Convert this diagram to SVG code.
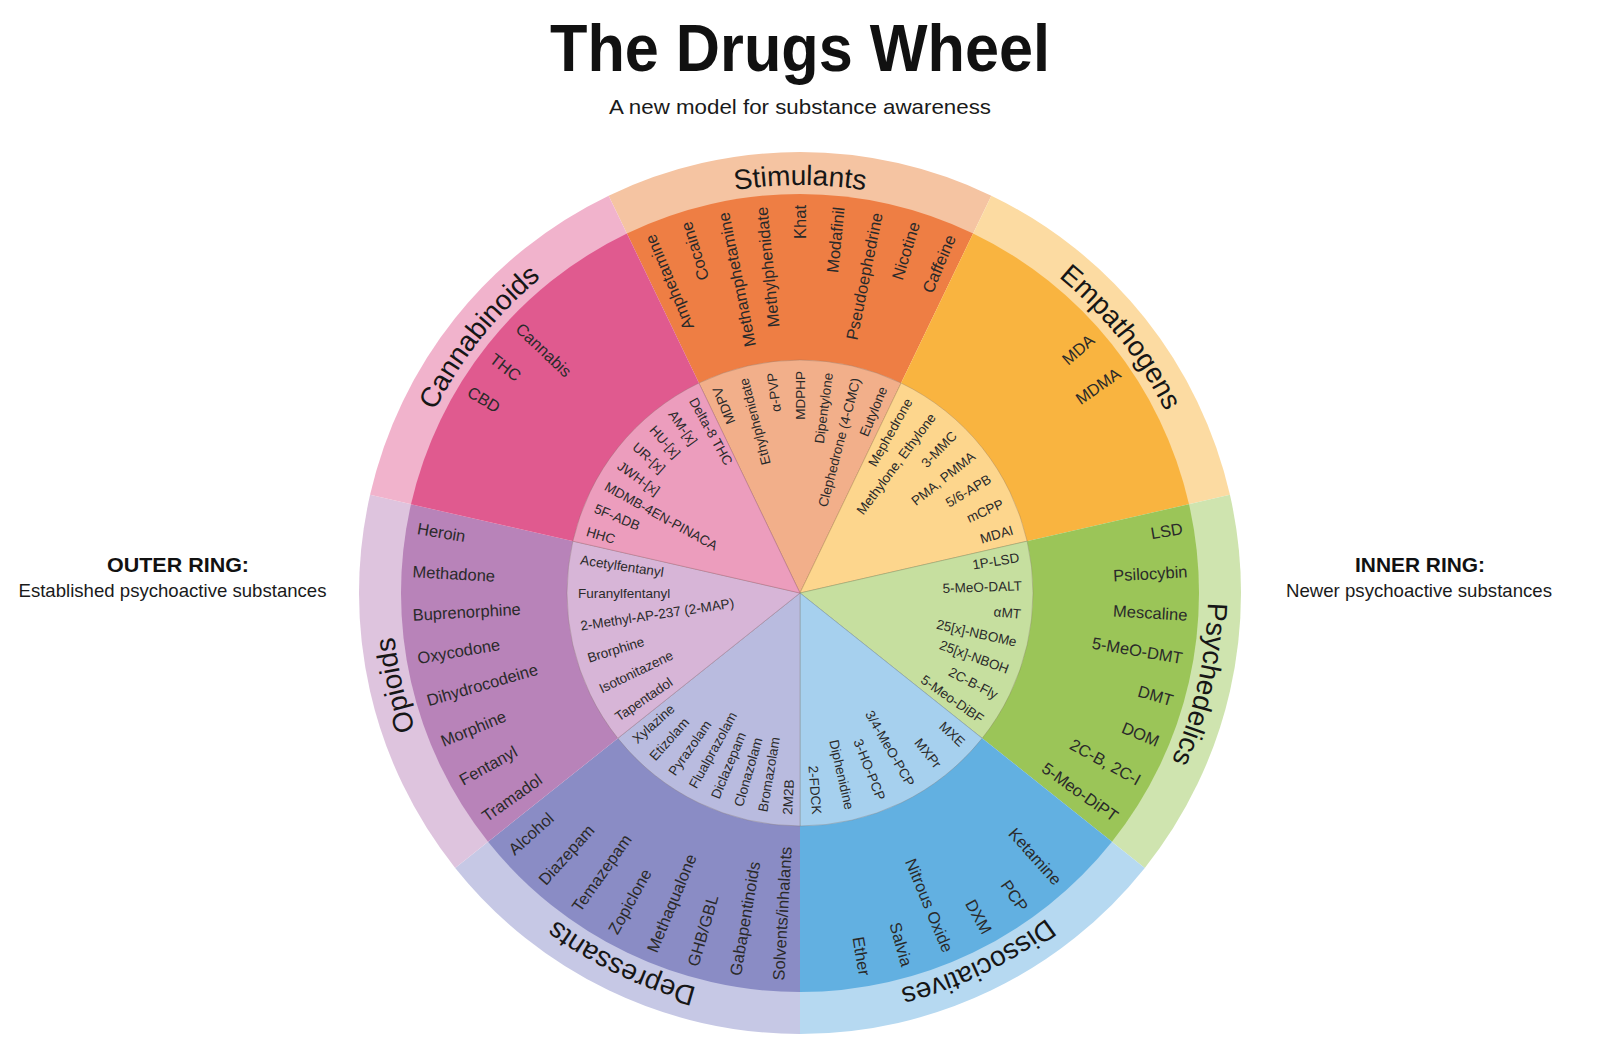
<svg xmlns="http://www.w3.org/2000/svg" width="1600" height="1050" viewBox="0 0 1600 1050">
<defs>
<style>
text{font-family:"Liberation Sans",Arial,sans-serif;fill:#2a2a2a}
.o{font-size:16.5px}
.i{font-size:13.5px}
.r{text-anchor:end;dominant-baseline:central}
.l{text-anchor:start;dominant-baseline:central}
.cat{font-size:28px;fill:#161616;text-anchor:middle}
.ir{stroke:#7a6a60;stroke-opacity:.3;stroke-width:1}
.ttl{font-size:66px;font-weight:bold;fill:#111;text-anchor:middle}
.sub{font-size:21px;fill:#1a1a1a;text-anchor:middle}
.hd{font-size:21px;font-weight:bold;fill:#111;text-anchor:middle}
.hs{font-size:19px;fill:#1a1a1a;text-anchor:middle}
</style>
<path id="lp" d="M800 1001A408 408 0 1 1 800 185A408 408 0 1 1 800 1001" fill="none"/>
</defs>
<rect width="1600" height="1050" fill="#ffffff"/>

<g id="title">
<text class="ttl" x="800" y="71" textLength="500" lengthAdjust="spacingAndGlyphs">The Drugs Wheel</text>
<text class="sub" x="800" y="114" textLength="382" lengthAdjust="spacingAndGlyphs">A new model for substance awareness</text>
</g>
<g id="legend-outer">
<text class="hd" x="178" y="572" textLength="142" lengthAdjust="spacingAndGlyphs">OUTER RING:</text>
<text class="hs" x="172.5" y="597" textLength="308" lengthAdjust="spacingAndGlyphs">Established psychoactive substances</text>
</g>
<g id="legend-inner">
<text class="hd" x="1420" y="572" textLength="130" lengthAdjust="spacingAndGlyphs">INNER RING:</text>
<text class="hs" x="1419" y="597" textLength="266" lengthAdjust="spacingAndGlyphs">Newer psychoactive substances</text>
</g>

<g id="stimulants">
<path fill="#F5C4A2" d="M800 593L608.66 195.67A441 441 0 0 1 991.34 195.67Z"/>
<path fill="#EE7E44" d="M800 593L626.88 233.51A399 399 0 0 1 973.12 233.51Z"/>
<path class="ir" fill="#F2AF8A" d="M800 593L698.91 383.07A233 233 0 0 1 901.09 383.07Z"/>
<text class="cat"><textPath href="#lp" startOffset="50%">Stimulants</textPath></text>
<text class="o r" x="1188" y="593" transform="rotate(-112.857 800 593)">Amphetamine</text>
<text class="o r" x="1188" y="593" transform="rotate(-107.143 800 593)">Cocaine</text>
<text class="o r" x="1188" y="593" transform="rotate(-101.429 800 593)">Methamphetamine</text>
<text class="o r" x="1188" y="593" transform="rotate(-95.714 800 593)">Methylphenidate</text>
<text class="o r" x="1188" y="593" transform="rotate(-90 800 593)">Khat</text>
<text class="o r" x="1188" y="593" transform="rotate(-84.286 800 593)">Modafinil</text>
<text class="o r" x="1188" y="593" transform="rotate(-78.571 800 593)">Pseudoephedrine</text>
<text class="o r" x="1188" y="593" transform="rotate(-72.857 800 593)">Nicotine</text>
<text class="o r" x="1188" y="593" transform="rotate(-67.143 800 593)">Caffeine</text>
<text class="i r" x="1022" y="593" transform="rotate(-112.041 800 593)">MDPV</text>
<text class="i r" x="1022" y="593" transform="rotate(-104.694 800 593)">Ethylphenidate</text>
<text class="i r" x="1022" y="593" transform="rotate(-97.347 800 593)">α-PVP</text>
<text class="i r" x="1022" y="593" transform="rotate(-90 800 593)">MDPHP</text>
<text class="i r" x="1022" y="593" transform="rotate(-82.653 800 593)">Dipentylone</text>
<text class="i r" x="1022" y="593" transform="rotate(-75.306 800 593)">Clephedrone (4-CMC)</text>
<text class="i r" x="1022" y="593" transform="rotate(-67.959 800 593)">Eutylone</text>
</g>

<g id="empathogens">
<path fill="#FCDBA2" d="M800 593L991.34 195.67A441 441 0 0 1 1229.94 494.87Z"/>
<path fill="#F9B440" d="M800 593L973.12 233.51A399 399 0 0 1 1189.00 504.22Z"/>
<path class="ir" fill="#FDD68D" d="M800 593L901.09 383.07A233 233 0 0 1 1027.16 541.15Z"/>
<text class="cat"><textPath href="#lp" startOffset="64.286%">Empathogens</textPath></text>
<text class="o r" x="1188" y="593" transform="rotate(-41.2 800 593)">MDA</text>
<text class="o r" x="1188" y="593" transform="rotate(-34.8 800 593)">MDMA</text>
<text class="i r" x="1022" y="593" transform="rotate(-60.612 800 593)">Mephedrone</text>
<text class="i r" x="1022" y="593" transform="rotate(-53.265 800 593)">Methylone, Ethylone</text>
<text class="i r" x="1022" y="593" transform="rotate(-45.918 800 593)">3-MMC</text>
<text class="i r" x="1022" y="593" transform="rotate(-38.571 800 593)">PMA, PMMA</text>
<text class="i r" x="1022" y="593" transform="rotate(-31.224 800 593)">5/6-APB</text>
<text class="i r" x="1022" y="593" transform="rotate(-23.878 800 593)">mCPP</text>
<text class="i r" x="1022" y="593" transform="rotate(-16.531 800 593)">MDAI</text>
</g>

<g id="psychedelics">
<path fill="#CFE4AF" d="M800 593L1229.94 494.87A441 441 0 0 1 1144.79 867.96Z"/>
<path fill="#9BC558" d="M800 593L1189.00 504.22A399 399 0 0 1 1111.95 841.77Z"/>
<path class="ir" fill="#C6DF9F" d="M800 593L1027.16 541.15A233 233 0 0 1 982.17 738.27Z"/>
<text class="cat"><textPath href="#lp" startOffset="78.571%">Psychedelics</textPath></text>
<text class="o r" x="1188" y="593" transform="rotate(-9.643 800 593)">LSD</text>
<text class="o r" x="1188" y="593" transform="rotate(-3.214 800 593)">Psilocybin</text>
<text class="o r" x="1188" y="593" transform="rotate(3.214 800 593)">Mescaline</text>
<text class="o r" x="1188" y="593" transform="rotate(9.643 800 593)">5-MeO-DMT</text>
<text class="o r" x="1188" y="593" transform="rotate(16.071 800 593)">DMT</text>
<text class="o r" x="1188" y="593" transform="rotate(22.5 800 593)">DOM</text>
<text class="o r" x="1188" y="593" transform="rotate(28.929 800 593)">2C-B, 2C-I</text>
<text class="o r" x="1188" y="593" transform="rotate(35.357 800 593)">5-Meo-DiPT</text>
<text class="i r" x="1022" y="593" transform="rotate(-9.184 800 593)">1P-LSD</text>
<text class="i r" x="1022" y="593" transform="rotate(-1.837 800 593)">5-MeO-DALT</text>
<text class="i r" x="1022" y="593" transform="rotate(5.51 800 593)">αMT</text>
<text class="i r" x="1022" y="593" transform="rotate(12.857 800 593)">25[x]-NBOMe</text>
<text class="i r" x="1022" y="593" transform="rotate(20.204 800 593)">25[x]-NBOH</text>
<text class="i r" x="1022" y="593" transform="rotate(27.551 800 593)">2C-B-Fly</text>
<text class="i r" x="1022" y="593" transform="rotate(34.898 800 593)">5-Meo-DiBF</text>
</g>

<g id="dissociatives">
<path fill="#B6D9F1" d="M800 593L1144.79 867.96A441 441 0 0 1 800 1034Z"/>
<path fill="#62B0E1" d="M800 593L1111.95 841.77A399 399 0 0 1 800 992Z"/>
<path class="ir" fill="#A6D0EE" d="M800 593L982.17 738.27A233 233 0 0 1 800 826Z"/>
<text class="cat"><textPath href="#lp" startOffset="92.857%">Dissociatives</textPath></text>
<text class="o r" x="1188" y="593" transform="rotate(48.214 800 593)">Ketamine</text>
<text class="o r" x="1188" y="593" transform="rotate(54.643 800 593)">PCP</text>
<text class="o r" x="1188" y="593" transform="rotate(61.071 800 593)">DXM</text>
<text class="o r" x="1188" y="593" transform="rotate(67.5 800 593)">Nitrous Oxide</text>
<text class="o r" x="1188" y="593" transform="rotate(73.929 800 593)">Salvia</text>
<text class="o r" x="1188" y="593" transform="rotate(80.357 800 593)">Ether</text>
<text class="i r" x="1022" y="593" transform="rotate(42.857 800 593)">MXE</text>
<text class="i r" x="1022" y="593" transform="rotate(51.429 800 593)">MXPr</text>
<text class="i r" x="1022" y="593" transform="rotate(60 800 593)">3/4-MeO-PCP</text>
<text class="i r" x="1022" y="593" transform="rotate(68.571 800 593)">3-HO-PCP</text>
<text class="i r" x="1022" y="593" transform="rotate(77.143 800 593)">Diphenidine</text>
<text class="i r" x="1022" y="593" transform="rotate(85.714 800 593)">2-FDCK</text>
</g>

<g id="depressants">
<path fill="#C6C8E5" d="M800 593L800 1034A441 441 0 0 1 455.21 867.96Z"/>
<path fill="#8A8CC5" d="M800 593L800 992A399 399 0 0 1 488.05 841.77Z"/>
<path class="ir" fill="#B9BBDF" d="M800 593L800 826A233 233 0 0 1 617.83 738.27Z"/>
<text class="cat"><textPath href="#lp" startOffset="7.143%">Depressants</textPath></text>
<text class="o l" x="412" y="593" transform="rotate(-86.786 800 593)">Solvents/inhalants</text>
<text class="o l" x="412" y="593" transform="rotate(-80.357 800 593)">Gabapentinoids</text>
<text class="o l" x="412" y="593" transform="rotate(-73.929 800 593)">GHB/GBL</text>
<text class="o l" x="412" y="593" transform="rotate(-67.5 800 593)">Methaqualone</text>
<text class="o l" x="412" y="593" transform="rotate(-61.071 800 593)">Zopiclone</text>
<text class="o l" x="412" y="593" transform="rotate(-54.643 800 593)">Temazepam</text>
<text class="o l" x="412" y="593" transform="rotate(-48.214 800 593)">Diazepam</text>
<text class="o l" x="412" y="593" transform="rotate(-41.786 800 593)">Alcohol</text>
<text class="i l" x="578" y="593" transform="rotate(-86.786 800 593)">2M2B</text>
<text class="i l" x="578" y="593" transform="rotate(-80.357 800 593)">Bromazolam</text>
<text class="i l" x="578" y="593" transform="rotate(-73.929 800 593)">Clonazolam</text>
<text class="i l" x="578" y="593" transform="rotate(-67.5 800 593)">Diclazepam</text>
<text class="i l" x="578" y="593" transform="rotate(-61.071 800 593)">Flualprazolam</text>
<text class="i l" x="578" y="593" transform="rotate(-54.643 800 593)">Pyrazolam</text>
<text class="i l" x="578" y="593" transform="rotate(-48.214 800 593)">Etizolam</text>
<text class="i l" x="578" y="593" transform="rotate(-41.786 800 593)">Xylazine</text>
</g>

<g id="opioids">
<path fill="#DEC4DE" d="M800 593L455.21 867.96A441 441 0 0 1 370.06 494.87Z"/>
<path fill="#B883B9" d="M800 593L488.05 841.77A399 399 0 0 1 411.00 504.22Z"/>
<path class="ir" fill="#D7B5D7" d="M800 593L617.83 738.27A233 233 0 0 1 572.84 541.15Z"/>
<text class="cat"><textPath href="#lp" startOffset="21.429%">Opioids</textPath></text>
<text class="o l" x="412" y="593" transform="rotate(-35.357 800 593)">Tramadol</text>
<text class="o l" x="412" y="593" transform="rotate(-28.929 800 593)">Fentanyl</text>
<text class="o l" x="412" y="593" transform="rotate(-22.5 800 593)">Morphine</text>
<text class="o l" x="412" y="593" transform="rotate(-16.071 800 593)">Dihydrocodeine</text>
<text class="o l" x="412" y="593" transform="rotate(-9.643 800 593)">Oxycodone</text>
<text class="o l" x="412" y="593" transform="rotate(-3.214 800 593)">Buprenorphine</text>
<text class="o l" x="412" y="593" transform="rotate(3.214 800 593)">Methadone</text>
<text class="o l" x="412" y="593" transform="rotate(9.643 800 593)">Heroin</text>
<text class="i l" x="578" y="593" transform="rotate(-34.286 800 593)">Tapentadol</text>
<text class="i l" x="578" y="593" transform="rotate(-25.714 800 593)">Isotonitazene</text>
<text class="i l" x="578" y="593" transform="rotate(-17.143 800 593)">Brorphine</text>
<text class="i l" x="578" y="593" transform="rotate(-8.571 800 593)">2-Methyl-AP-237 (2-MAP)</text>
<text class="i l" x="578" y="593" transform="rotate(0 800 593)">Furanylfentanyl</text>
<text class="i l" x="578" y="593" transform="rotate(8.571 800 593)">Acetylfentanyl</text>
</g>

<g id="cannabinoids">
<path fill="#F1B3CC" d="M800 593L370.06 494.87A441 441 0 0 1 608.66 195.67Z"/>
<path fill="#E05A8F" d="M800 593L411.00 504.22A399 399 0 0 1 626.88 233.51Z"/>
<path class="ir" fill="#EC9DBD" d="M800 593L572.84 541.15A233 233 0 0 1 698.91 383.07Z"/>
<text class="cat"><textPath href="#lp" startOffset="35.714%">Cannabinoids</textPath></text>
<text class="o l" x="412" y="593" transform="rotate(31.5 800 593)">CBD</text>
<text class="o l" x="412" y="593" transform="rotate(37.5 800 593)">THC</text>
<text class="o l" x="412" y="593" transform="rotate(43.5 800 593)">Cannabis</text>
<text class="i l" x="578" y="593" transform="rotate(16.071 800 593)">HHC</text>
<text class="i l" x="578" y="593" transform="rotate(22.5 800 593)">5F-ADB</text>
<text class="i l" x="578" y="593" transform="rotate(28.929 800 593)">MDMB-4EN-PINACA</text>
<text class="i l" x="578" y="593" transform="rotate(35.357 800 593)">JWH-[x]</text>
<text class="i l" x="578" y="593" transform="rotate(41.786 800 593)">UR-[x]</text>
<text class="i l" x="578" y="593" transform="rotate(48.214 800 593)">HU-[x]</text>
<text class="i l" x="578" y="593" transform="rotate(54.643 800 593)">AM-[x]</text>
<text class="i l" x="578" y="593" transform="rotate(61.071 800 593)">Delta-8 THC</text>
</g>
</svg>
